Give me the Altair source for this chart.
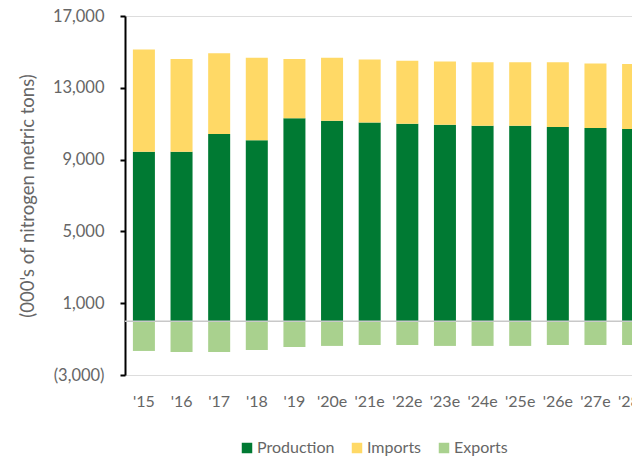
import altair as alt
import pandas as pd

years = ["'15", "'16", "'17", "'18", "'19", "'20e", "'21e", "'22e", "'23e", "'24e", "'25e", "'26e", "'27e", "'28e"]
production = [9440, 9440, 10430, 10080, 11300, 11170, 11060, 11000, 10940, 10890, 10890, 10820, 10760, 10710]
imports = [5700, 5170, 4490, 4600, 3310, 3510, 3510, 3510, 3530, 3530, 3530, 3600, 3590, 3620]
exports = [-1660, -1720, -1720, -1610, -1440, -1380, -1330, -1330, -1380, -1380, -1380, -1330, -1330, -1330]

series = ["Production", "Imports", "Exports"]
colors = ["#007A33", "#FFD966", "#A9D18E"]

rows = []
for i, y in enumerate(years):
    rows.append({"year": y, "series": "Production", "value": production[i], "ord": 0})
    rows.append({"year": y, "series": "Imports", "value": imports[i], "ord": 1})
    rows.append({"year": y, "series": "Exports", "value": exports[i], "ord": 2})
df = pd.DataFrame(rows)

FONT = "Lato"
GRAY = "#666666"

label_expr = "datum.value < 0 ? '(' + format(-datum.value, ',') + ')' : format(datum.value, ',')"

bars = alt.Chart(df).mark_bar().encode(
    x=alt.X("year:N", sort=years,
            scale=alt.Scale(range=[0, 527], paddingInner=0.415, paddingOuter=0.21),
            axis=alt.Axis(title=None, domain=False, ticks=False, labelAngle=0,
                          labelPadding=18, labelFontSize=16, labelColor=GRAY, labelFont=FONT)),
    y=alt.Y("value:Q", stack="zero",
            scale=alt.Scale(domain=[-3000, 17000], nice=False, zero=False),
            axis=alt.Axis(title="(000's of nitrogen metric tons)", values=[-3000, 1000, 5000, 9000, 13000, 17000],
                          labelExpr=label_expr, grid=False, domainColor="black", domainWidth=2,
                          tickColor="black", tickWidth=2, tickSize=5, labelPadding=16,
                          labelFontSize=16.5, labelColor=GRAY, labelFont=FONT,
                          titleFontSize=18.5, titleFontWeight="normal", titleColor=GRAY,
                          titleFont=FONT, titlePadding=15)),
    color=alt.Color("series:N", sort=series,
                    scale=alt.Scale(domain=series, range=colors),
                    legend=alt.Legend(title=None, orient="none", legendX=114, legendY=424,
                                      direction="horizontal",
                                      symbolType="square", symbolSize=110, symbolStrokeWidth=0,
                                      labelFontSize=16, labelColor=GRAY, labelFont=FONT,
                                      labelOffset=2, columnPadding=14)),
    order=alt.Order("ord:Q"),
)

zero = alt.Chart(pd.DataFrame({"z": [0]})).mark_rule(color="#C8C8C8", strokeWidth=1.5).encode(
    y=alt.Y("z:Q"))

chart = alt.layer(bars, zero).properties(
    width=507, height=359,
    autosize=alt.AutoSizeParams(type="none"),
    padding={"left": 125, "top": 16, "right": 0, "bottom": 87},
).configure_view(stroke=None).configure(background="white")

chart.save("out.html", embed_options={"renderer": "svg", "actions": False})
